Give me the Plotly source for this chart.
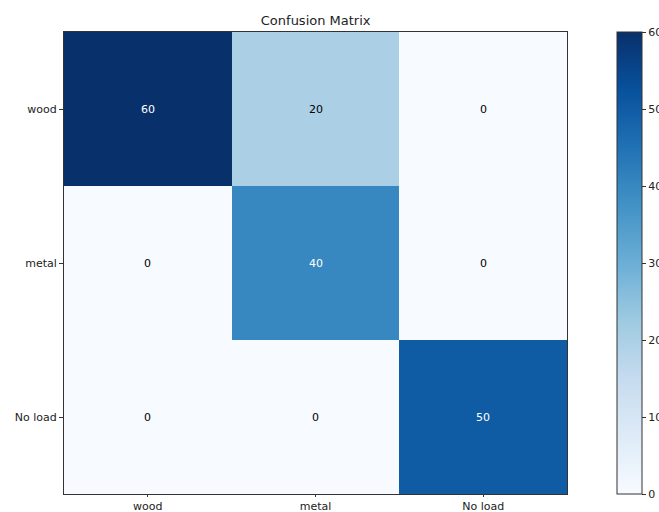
import plotly.graph_objects as go

# Class labels and confusion counts (rows = true, cols = predicted)
classes = ["wood", "metal", "No load"]
counts = [
    [60, 20, 0],
    [0, 40, 0],
    [0, 0, 50],
]
cbar_ticks = [0, 10, 20, 30, 40, 50, 60]

vmax = max(max(r) for r in counts)
thresh = vmax / 2.0

fig = go.Figure()
fig.add_trace(go.Heatmap(
    z=counts,
    x=classes,
    y=classes,
    colorscale="Blues",
    zmin=0,
    zmax=vmax,
    xgap=0,
    ygap=0,
    hoverinfo="skip",
    colorbar=dict(
        x=1.0994, xanchor="left", xref="paper",
        y=0, yanchor="bottom", len=1.0, lenmode="fraction",
        ypad=0, xpad=0,
        thickness=25,
        outlinewidth=1, outlinecolor="#333333",
        tickvals=cbar_ticks,
        ticks="outside", ticklen=4, tickcolor="#333333",
        tickfont=dict(family="DejaVu Sans", size=11, color="#222222"),
    ),
))

# Cell value annotations; dark cells get white text
for i, row in enumerate(counts):
    for j, v in enumerate(row):
        fig.add_annotation(
            x=classes[j], y=classes[i], text=str(v), showarrow=False,
            font=dict(family="DejaVu Sans", size=11,
                      color="white" if v > thresh else "black"),
        )

fig.update_layout(
    width=659, height=512,
    margin=dict(l=64, r=92, t=32, b=18, autoexpand=False),
    paper_bgcolor="white",
    plot_bgcolor="white",
    title=dict(text="Confusion Matrix", x=0.479, xanchor="center",
               y=1 - 20 / 512, yanchor="middle",
               font=dict(family="DejaVu Sans", size=13, color="#222222")),
    font=dict(family="DejaVu Sans", size=11, color="#222222"),
    xaxis=dict(showline=True, linecolor="#333333", linewidth=1, mirror=True,
               ticks="outside", ticklen=2, tickcolor="#333333",
               showgrid=False, zeroline=False),
    yaxis=dict(showline=True, linecolor="#333333", linewidth=1, mirror=True,
               ticks="outside", ticklen=4, tickcolor="#333333",
               autorange="reversed", showgrid=False, zeroline=False),
)

fig.write_html("out.html")
